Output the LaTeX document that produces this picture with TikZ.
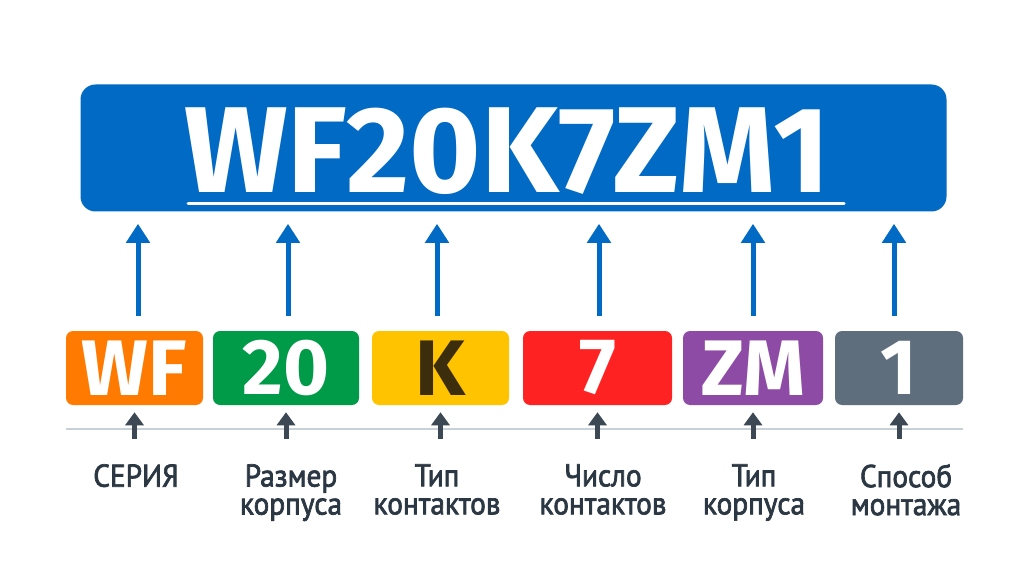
\documentclass[tikz,border=0pt]{standalone}
\usepackage{fontspec}
\setmainfont{Fira Sans}
\newfontfamily\labelfont[FakeBold=2.2, FakeStretch=0.93]{PT Sans}
\usetikzlibrary{arrows.meta}
\definecolor{codeblue}{HTML}{006AC4}
\definecolor{segorange}{HTML}{FF7A00}
\definecolor{seggreen}{HTML}{009B48}
\definecolor{segyellow}{HTML}{FFC300}
\definecolor{segbrown}{HTML}{3C2D0C}
\definecolor{segred}{HTML}{FF2222}
\definecolor{segpurple}{HTML}{8E4BA5}
\definecolor{seggray}{HTML}{5E6E7C}
\definecolor{labelgray}{HTML}{2B3742}
\definecolor{arrowgray}{HTML}{3C4853}
\definecolor{rulegray}{HTML}{C8D0D8}
\tikzset{
  segment/.style={rounded corners=5pt, minimum height=74*0.025cm, inner sep=0pt,
    font=\bfseries\fontsize{56}{58}\selectfont},
  uparrow/.style={draw=codeblue, line width=5*0.025cm,
    -{Triangle[width=23*0.025cm,length=19*0.025cm]}},
  smallarrow/.style={draw=arrowgray, line width=5*0.025cm,
    -{Triangle[width=18*0.025cm,length=13*0.025cm]}},
  caption/.style={text=labelgray, align=center, anchor=north, inner sep=0pt,
    font=\labelfont\fontsize{22.4}{19.9}\selectfont},
}
% #1 name, #2 code, #3 left, #4 right, #5 fill, #6 text, #7 arrow x, #8 caption x, #9 caption
\newcommand{\segbox}[9]{
  \node[segment, fill=#5, text=#6, minimum width={(#4-#3)*0.025cm}] (#1) at ({(#3+#4)/2},368) {#2};
  \coordinate (#1up) at (#7,316);
  \draw[uparrow] (#1up) -- ([yshift=-12*0.025cm]#1up |- code.south);
  \node[caption] (#1lab) at (#8,464) {#9};
  \coordinate (#1in) at ({(#3+#4)/2},439);
}
\begin{document}
\begin{tikzpicture}[x=0.025cm,y=-0.025cm]
	\useasboundingbox[fill=white] (0,0) rectangle (1024,583);

	\node[fill=codeblue, rounded corners=15*0.025cm, minimum width=866*0.025cm,
	  minimum height=127*0.025cm] (code) at (513.5,148) {};
	\node[text=white, inner sep=0pt, font=\bfseries\fontsize{87}{90}\selectfont] (codetext) at (507,151) {WF20K7ZM1};
	\draw[white, line width=3*0.025cm, line cap=round] (188,204) to (844,204);

	\draw[rulegray, line width=2*0.025cm] (66,429) to (963,429);

	\segbox{wf}{WF}{66}{203}{segorange}{white}{138}{136}{СЕРИЯ}
	\segbox{size}{20}{213}{359}{seggreen}{white}{288}{291}{Размер\\корпуса}
	\segbox{cont}{K}{372}{509}{segyellow}{segbrown}{437}{437}{Тип\\контактов}
	\segbox{num}{7}{523}{672}{segred}{white}{599}{603}{Число\\контактов}
	\segbox{body}{ZM}{683}{823}{segpurple}{white}{753}{754}{Тип\\корпуса}
	\segbox{mount}{1}{835}{963}{seggray}{white}{894}{906}{Способ\\монтажа}

	\draw[smallarrow] (wfin) to ([yshift=-7*0.025cm]wf.south);
	\draw[smallarrow] (sizein) to ([yshift=-7*0.025cm]size.south);
	\draw[smallarrow] (contin) to ([yshift=-7*0.025cm]cont.south);
	\draw[smallarrow] (numin) to ([yshift=-7*0.025cm]num.south);
	\draw[smallarrow] (bodyin) to ([yshift=-7*0.025cm]body.south);
	\draw[smallarrow] (mountin) to ([yshift=-7*0.025cm]mount.south);
\end{tikzpicture}
\end{document}
